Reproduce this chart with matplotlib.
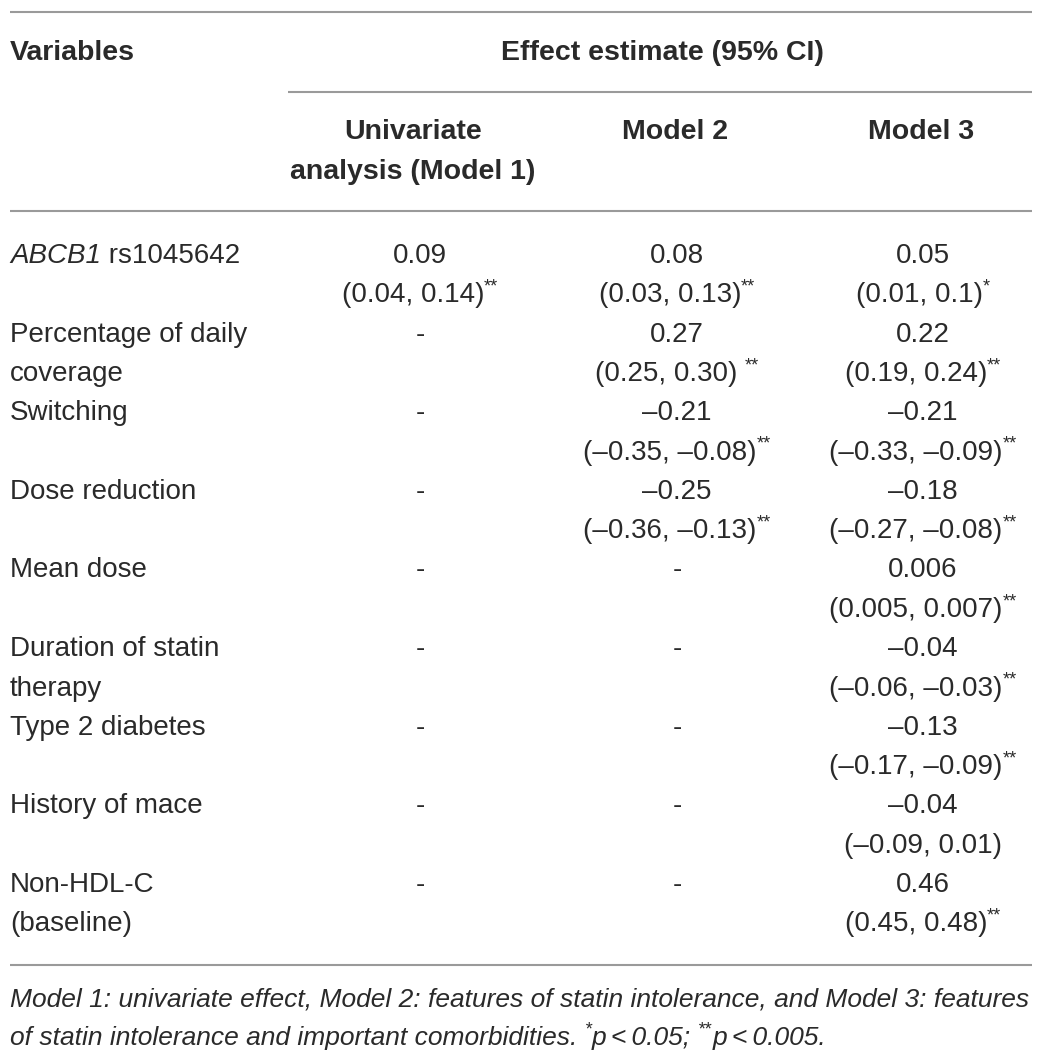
import matplotlib
matplotlib.use("Agg")
import matplotlib.pyplot as plt

plt.rcParams['font.family'] = ['Liberation Sans', 'DejaVu Sans']

# data
variables = [
    ("ABCB1", " rs1045642"),
    ("", "Percentage of daily\ncoverage"),
    ("", "Switching"),
    ("", "Dose reduction"),
    ("", "Mean dose"),
    ("", "Duration of statin\ntherapy"),
    ("", "Type 2 diabetes"),
    ("", "History of mace"),
    ("", "Non-HDL-C\n(baseline)"),
]
model1_est = ["0.09", None, None, None, None, None, None, None, None]
model1_ci = ["(0.04, 0.14)", None, None, None, None, None, None, None, None]
model1_sig = ["**", "", "", "", "", "", "", "", ""]

model2_est = ["0.08", "0.27", "\u20130.21", "\u20130.25", None, None, None, None, None]
model2_ci = ["(0.03, 0.13)", "(0.25, 0.30) ", "(\u20130.35, \u20130.08)",
             "(\u20130.36, \u20130.13)", None, None, None, None, None]
model2_sig = ["**", "**", "**", "**", "", "", "", "", ""]

model3_est = ["0.05", "0.22", "\u20130.21", "\u20130.18", "0.006", "\u20130.04",
              "\u20130.13", "\u20130.04", "0.46"]
model3_ci = ["(0.01, 0.1)", "(0.19, 0.24)", "(\u20130.33, \u20130.09)",
             "(\u20130.27, \u20130.08)", "(0.005, 0.007)", "(\u20130.06, \u20130.03)",
             "(\u20130.17, \u20130.09)", "(\u20130.09, 0.01)", "(0.45, 0.48)"]
model3_sig = ["*", "**", "**", "**", "**", "**", "**", "", "**"]

col_headers = ["Univariate\nanalysis (Model 1)", "Model 2", "Model 3"]
footnote_1 = "Model 1: univariate effect, Model 2: features of statin intolerance, and Model 3: features"
footnote_2 = [("of statin intolerance and important comorbidities. ", ""), ("p\u2009<\u20090.05; ", "*"),
              ("p\u2009<\u20090.005.", "**")]

W, H = 1042, 1058
fig = plt.figure(figsize=(W / 100, H / 100), dpi=100)
ax = fig.add_axes([0, 0, 1, 1])
ax.set_xlim(0, W)
ax.set_ylim(H, 0)
ax.axis('off')
fig.canvas.draw()
renderer = fig.canvas.get_renderer()

txt = '#2a2a2a'
line_c = '#9a9a9a'
fs = 20
fs_b = 20.5
fs_sup = 13
left, right = 10, 1032
col_x = [420, 677, 923]


def text_width(t):
    bb = t.get_window_extent(renderer=renderer)
    return bb.width


def put_with_sup(x, y, s, sup, ha='center', size=fs, style='normal'):
    # main text plus a small superscript, centred (or left aligned) as one piece
    t = ax.text(0, y, s, fontsize=size, style=style, color=txt, va='center', ha='left')
    w = text_width(t)
    ws = 0
    st = None
    if sup:
        st = ax.text(0, y - size * 0.42, sup, fontsize=fs_sup, style=style, color=txt,
                     va='center', ha='left')
        ws = text_width(st)
    x0 = x - (w + ws) / 2 if ha == 'center' else x
    t.set_x(x0)
    if st is not None:
        st.set_x(x0 + w)
    return x0 + w + ws


for y, x0 in [(12, left), (92, 288), (211, left), (965, left)]:
    ax.plot([x0, right], [y, y], color=line_c, lw=1.5, solid_capstyle='butt')

ax.text(left, 53, "Variables", fontsize=fs_b, fontweight='bold', color=txt, va='center')
ax.text(662, 53, "Effect estimate (95% CI)", fontsize=fs_b, fontweight='bold', color=txt,
        va='center', ha='center')
for x, h in zip(col_x, col_headers):
    lines = h.split('\n')
    for k, ln in enumerate(lines):
        ax.text(x - 7 if len(lines) > 1 else x - 2, 132 + k * 40, ln, fontsize=fs_b,
                fontweight='bold', color=txt, va='center', ha='center')

row0, pitch, lpitch = 256, 78.6, 39.5
models = [(model1_est, model1_ci, model1_sig),
          (model2_est, model2_ci, model2_sig),
          (model3_est, model3_ci, model3_sig)]

for i, (ital, name) in enumerate(variables):
    y = row0 + i * pitch
    if ital:
        t = ax.text(left, y, ital, fontsize=fs, style='italic', color=txt, va='center')
        ax.text(left + text_width(t), y, name, fontsize=fs, color=txt, va='center')
    else:
        for k, ln in enumerate(name.split('\n')):
            ax.text(left, y + k * lpitch, ln, fontsize=fs, color=txt, va='center')
    for x, (est_l, ci_l, sig_l) in zip(col_x, models):
        est, ci, sig = est_l[i], ci_l[i], sig_l[i]
        if est is None:
            ax.text(x, y, "-", fontsize=fs, color=txt, va='center', ha='center')
            continue
        ax.text(x, y, est, fontsize=fs, color=txt, va='center', ha='center')
        put_with_sup(x, y + lpitch, ci, sig)

fs_foot = 19
ax.text(left, 1000, footnote_1, fontsize=fs_foot, style='italic', color=txt, va='center')
xc = left
for k, (s, sup) in enumerate(footnote_2):
    if sup:
        st = ax.text(xc, 1038 - fs_foot * 0.42, sup, fontsize=fs_sup, style='italic',
                     color=txt, va='center', ha='left')
        xc += text_width(st)
    t = ax.text(xc, 1038, s, fontsize=fs_foot, style='italic', color=txt, va='center', ha='left')
    xc += text_width(t)

fig.savefig("out.png", dpi=100)
